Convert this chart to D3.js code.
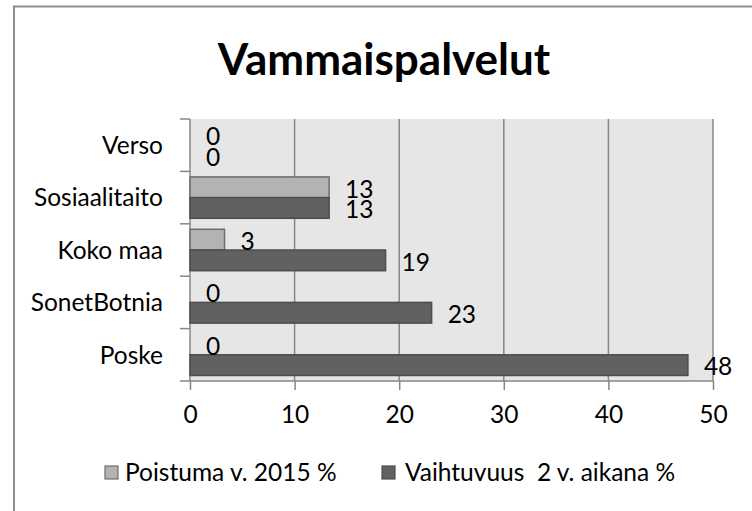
<!DOCTYPE html>
<html>
<head>
<meta charset="utf-8">
<script src="https://cdn.jsdelivr.net/npm/d3@7"></script>
<style>
  body { margin: 0; background: white; }
  text { font-family: Lato, "Liberation Sans", sans-serif; fill: #000; }
  .gridline { stroke: #878787; stroke-width: 1.5; }
</style>
</head>
<body>
<div id="rysVammais"></div>
<script>
var kategoriat = ["Verso", "Sosiaalitaito", "Koko maa", "SonetBotnia", "Poske"];
var sarjat = ["Poistuma v. 2015 %", "Vaihtuvuus  2 v. aikana %"];
var poistuma = [0, 13.3, 3.3, 0, 0];
var vaihtuvuus = [0, 13.3, 18.7, 23.1, 47.6];
var xTicks = [0, 10, 20, 30, 40, 50];
var otsikko = "Vammaispalvelut";

var varit = ["#b3b3b3", "#616161"];
var reunat = ["#6e6e6e", "#4d4d4d"];

var margin = { left: 190, top: 119, right: 39, bottom: 130 };
var width = 752 - margin.left - margin.right;
var height = 381 - margin.top;
var fontti = "24.5px";

var svg = d3.select("#rysVammais")
  .append("svg")
  .attr("width", 752)
  .attr("height", 511);

// outer chart border, running past the right and bottom edge
svg.append("rect")
  .attr("x", 14).attr("y", 6.5)
  .attr("width", 780).attr("height", 540)
  .attr("fill", "white")
  .attr("stroke", "#8e8e8e")
  .attr("stroke-width", 2);

svg.append("text")
  .attr("x", 384)
  .attr("y", 75)
  .attr("text-anchor", "middle")
  .style("font-size", "44px")
  .style("font-weight", "bold")
  .text(otsikko);

var g = svg.append("g")
  .attr("transform", "translate(" + margin.left + "," + margin.top + ")");

var xscale = d3.scaleLinear()
  .domain([0, 50])
  .range([0, width]);

var yscale = d3.scaleBand()
  .domain(kategoriat)
  .range([0, height])
  .paddingInner(0.21)
  .paddingOuter(0.105);

var ysub = d3.scaleBand()
  .domain(sarjat)
  .range([0, yscale.bandwidth()]);

g.append("rect")
  .attr("width", width)
  .attr("height", height)
  .attr("fill", "#e6e6e6");

g.append("g")
  .selectAll("line")
  .data(xTicks.slice(1))
  .enter().append("line")
  .attr("class", "gridline")
  .attr("x1", d => xscale(d))
  .attr("x2", d => xscale(d))
  .attr("y1", 0)
  .attr("y2", height);

var xAxis = g.append("g")
  .attr("transform", "translate(0," + height + ")")
  .call(d3.axisBottom(xscale).tickValues(xTicks).tickSize(9).tickPadding(16));
xAxis.selectAll("line, path").attr("stroke", "#878787").attr("stroke-width", 1.5);
xAxis.select(".domain").attr("d", "M0,0H" + width);
xAxis.selectAll("text")
  .style("font-size", fontti)
  .style("font-family", "Lato, sans-serif");

// category axis: ticks at band boundaries
var yAxis = g.append("g");
yAxis.append("line")
  .attr("x1", 0).attr("x2", 0)
  .attr("y1", 0).attr("y2", height)
  .attr("stroke", "#878787").attr("stroke-width", 1.5);
yAxis.selectAll(".rajat")
  .data(kategoriat.concat(["loppu"]))
  .enter().append("line")
  .attr("x1", -10).attr("x2", 0)
  .attr("y1", (d, i) => i * yscale.step())
  .attr("y2", (d, i) => i * yscale.step())
  .attr("stroke", "#878787").attr("stroke-width", 1.5);
yAxis.selectAll("text")
  .data(kategoriat)
  .enter().append("text")
  .attr("x", -27)
  .attr("y", d => yscale(d) + yscale.bandwidth() / 2)
  .attr("dy", "0.36em")
  .attr("text-anchor", "end")
  .style("font-size", fontti)
  .text(d => d);

var taulu = [];
kategoriat.forEach(function (k, i) {
  taulu.push({ kat: k, sarja: sarjat[0], arvo: poistuma[i], s: 0 });
  taulu.push({ kat: k, sarja: sarjat[1], arvo: vaihtuvuus[i], s: 1 });
});

var palkit = g.append("g")
  .selectAll("rect")
  .data(taulu.filter(d => d.arvo > 0))
  .enter().append("rect")
  .attr("x", 0)
  .attr("y", d => yscale(d.kat) + ysub(d.sarja))
  .attr("width", d => xscale(d.arvo))
  .attr("height", ysub.bandwidth())
  .attr("fill", d => varit[d.s])
  .attr("stroke", d => reunat[d.s])
  .attr("stroke-width", 1.5);

g.append("g")
  .selectAll("text")
  .data(taulu)
  .enter().append("text")
  .attr("x", d => xscale(d.arvo) + 16)
  .attr("y", d => yscale(d.kat) + ysub(d.sarja) + ysub.bandwidth() / 2 + 1.5)
  .attr("dy", "0.36em")
  .style("font-size", fontti)
  .text(d => Math.round(d.arvo));

// legend
var legendX = [105, 382];
var leg = svg.append("g")
  .selectAll("g")
  .data(sarjat)
  .enter().append("g")
  .attr("transform", (d, i) => "translate(" + legendX[i] + ",466)");
leg.append("rect")
  .attr("width", 13).attr("height", 13)
  .attr("fill", (d, i) => varit[i])
  .attr("stroke", (d, i) => reunat[i])
  .attr("stroke-width", 1.2);
leg.append("text")
  .attr("x", (d, i) => i == 0 ? 20 : 23)
  .attr("y", 15)
  .style("font-size", fontti)
  .style("white-space", "pre")
  .text(d => d);
</script>
</body>
</html>
